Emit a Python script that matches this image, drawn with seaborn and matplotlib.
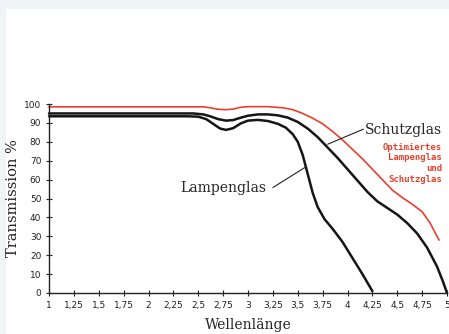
import matplotlib
matplotlib.use("Agg")
import matplotlib.pyplot as plt
from matplotlib.patches import Rectangle
import seaborn as sns
import pandas as pd

# values (wavelength vs. transmission %)
lampen_x = [1, 2.4, 2.5, 2.58, 2.65, 2.72, 2.78, 2.85, 2.93, 3.0, 3.1, 3.2, 3.3, 3.38, 3.45, 3.5, 3.55, 3.6, 3.65, 3.7, 3.77, 3.85, 3.95, 4.05, 4.15, 4.25]
lampen_y = [93.5, 93.5, 93.3, 92, 89.5, 87, 86.3, 87.2, 89.8, 91.2, 91.6, 91, 89.5, 87.5, 84, 80, 73, 63, 53, 45.5, 39, 34, 27, 18.5, 10, 1]

schutz_x = [1, 2.45, 2.55, 2.62, 2.7, 2.78, 2.85, 2.93, 3.0, 3.1, 3.2, 3.3, 3.4, 3.5, 3.6, 3.7, 3.8, 3.9, 4.0, 4.1, 4.2, 4.3, 4.4, 4.5, 4.6, 4.7, 4.8, 4.9, 4.96, 5.0]
schutz_y = [95, 95, 94.5, 93.5, 92, 91.2, 91.5, 92.8, 93.8, 94.5, 94.5, 94, 92.8, 90.5, 87, 82.5, 77, 71.5, 65.5, 59.5, 53.5, 48.5, 45, 41.5, 37, 31.5, 24, 14, 6, 0]

opt_x = [1, 2.55, 2.62, 2.7, 2.78, 2.85, 2.92, 3.0, 3.2, 3.35, 3.45, 3.55, 3.65, 3.75, 3.85, 3.95, 4.05, 4.15, 4.25, 4.35, 4.45, 4.55, 4.65, 4.75, 4.83, 4.92]
opt_y = [98.5, 98.5, 98, 97.2, 97, 97.3, 98.2, 98.6, 98.6, 98, 97, 95, 92.5, 89.5, 85.5, 81, 76, 71, 65.5, 60, 54.5, 50.5, 47, 43, 37, 28]

x_ticks = [1, 1.25, 1.5, 1.75, 2, 2.25, 2.5, 2.75, 3, 3.25, 3.5, 3.75, 4, 4.25, 4.5, 4.75, 5]
x_labels = ["1", "1,25", "1,5", "1,75", "2", "2,25", "2,5", "2,75", "3", "3,25", "3,5", "3,75", "4", "4,25", "4,5", "4,75", "5"]
y_ticks = [0, 10, 20, 30, 40, 50, 60, 70, 80, 90, 100]

df = pd.concat([
    pd.DataFrame({"x": lampen_x, "y": lampen_y, "serie": "Lampenglas"}),
    pd.DataFrame({"x": schutz_x, "y": schutz_y, "serie": "Schutzglas"}),
    pd.DataFrame({"x": opt_x, "y": opt_y, "serie": "Optimiert"}),
])

sns.set_style("white")
RED = "#e8402c"

fig = plt.figure(figsize=(4.49, 3.34), dpi=100, facecolor="#eef5f7")
fig.patches.append(Rectangle((6 / 449, 0), 1, (334 - 9) / 334, transform=fig.transFigure,
                             facecolor="white", edgecolor="none", zorder=-5))
ax = fig.add_axes([49 / 449, 41 / 334, 398 / 449, 189 / 334])
ax.set_facecolor("none")

sns.lineplot(data=df, x="x", y="y", hue="serie", sort=False, estimator=None, ax=ax,
             palette={"Lampenglas": "#151515", "Schutzglas": "#151515", "Optimiert": RED},
             legend=False, linewidth=1.8)
for line in ax.get_lines():
    if line.get_color() == RED:
        line.set_linewidth(1.2)
    line.set_clip_on(False)
    line.set_solid_joinstyle("round")

ax.set_xlim(1, 5)
ax.set_ylim(0, 100)
ax.set_xticks(x_ticks)
ax.set_xticklabels(x_labels)
ax.set_yticks(y_ticks)
ax.tick_params(bottom=True, left=True, direction="inout", length=5, width=0.8,
               labelsize=6.5, pad=3, colors="#222222")
for s in ["top", "right"]:
    ax.spines[s].set_visible(False)
for s in ["left", "bottom"]:
    ax.spines[s].set_color("#222222")
    ax.spines[s].set_linewidth(1.0)

ax.set_xlabel("Wellenlänge", fontsize=10, family="DejaVu Serif", labelpad=6)
ax.set_ylabel("Transmission %", fontsize=10.5, family="DejaVu Serif", labelpad=3)

# labels with pointer lines
ax.text(4.95, 86.5, "Schutzglas", fontsize=10, family="DejaVu Serif", ha="right", va="center")
ax.plot([4.16, 3.8], [86.7, 78.7], color="#222222", lw=0.8)
ax.text(3.18, 55.8, "Lampenglas", fontsize=10, family="DejaVu Serif", ha="right", va="center")
ax.plot([3.25, 3.59], [55.8, 67], color="#222222", lw=0.8)
ax.text(4.95, 79.5, "Optimiertes\nLampenglas\nund\nSchutzglas", fontsize=6.5, color=RED,
        ha="right", va="top", linespacing=1.25, fontweight="bold", family="DejaVu Sans Mono")

fig.savefig("out.png", dpi=100, facecolor=fig.get_facecolor())
